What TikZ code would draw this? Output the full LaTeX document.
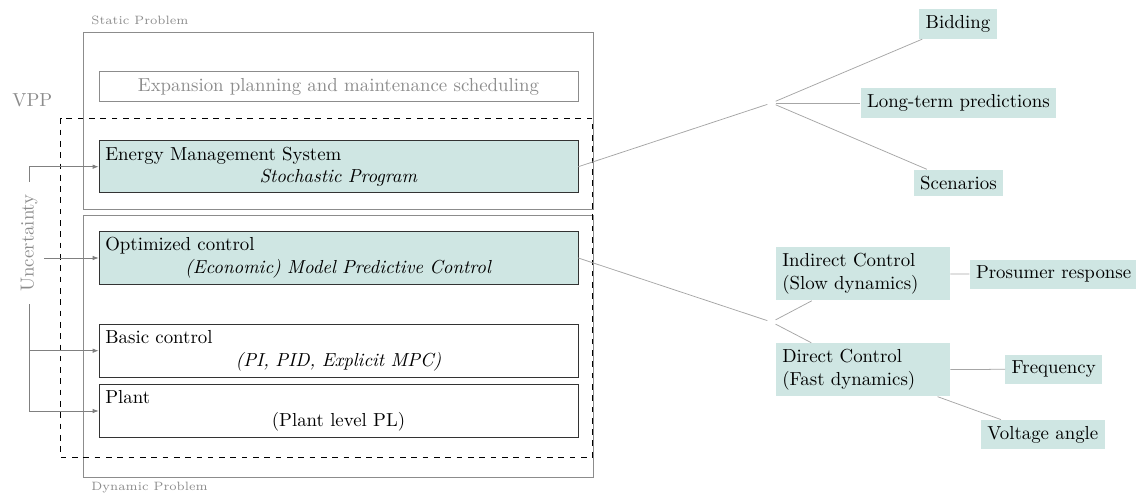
\documentclass[tikz,border=0pt]{standalone}
\usetikzlibrary{arrows.meta}
\definecolor{tealbg}{RGB}{207,230,227}
\tikzset{
  level/.style={draw=black!80, fill=white, text width=247.4pt, inner sep=3.33pt},
  active/.style={fill=tealbg},
  leaf/.style={fill=tealbg, inner sep=3.33pt},
  hub/.style={inner sep=2pt, minimum size=0pt},
  frame/.style={draw=black!45},
  branch/.style={draw=black!35},
  feed/.style={draw=black!50, -{Latex[length=3.2pt,width=2.4pt]}},
  tag/.style={text=black!45, anchor=base west, inner sep=0pt, font=\fontsize{6.4}{7}\selectfont},
}
\begin{document}
\begin{tikzpicture}[x=0.5305pt, y=-0.5305pt]
\useasboundingbox (0,0) rectangle (1136,495);

% outer frames: static / dynamic problem and the VPP boundary
\draw[frame] (83,32) rectangle (593,209);
\draw[frame] (83,215) rectangle (593,477);
\draw[dashed] (60.5,118.3) rectangle (592.5,457.3);
\node[tag] (stat) at (91,24.5) {Static Problem};
\node[tag] (dyn) at (91,490.5) {Dynamic Problem};
\node[text=black!45, anchor=base west, inner sep=0pt] (vpp) at (12,106.7) {VPP};

% control hierarchy
\node[level, draw=black!45, text=black!45, align=center] (exp) at (338.5,86.4)
  {Expansion planning and maintenance scheduling};
\node[level, active] (ems) at (338.5,166.7)
  {Energy Management System\par\centerline{\textit{Stochastic Program}}};
\node[level, active] (opt) at (338.5,258)
  {Optimized control\par\centerline{\textit{(Economic) Model Predictive Control}}};
\node[level] (basic) at (338.5,350.7)
  {Basic control\par\centerline{\textit{(PI, PID, Explicit MPC)}}};
\node[level] (plant) at (338.5,411)
  {Plant\par\centerline{(Plant level PL)}};

% uncertainty enters every level
\node[rotate=90, text=black!45, inner xsep=6.4pt, inner ysep=3.33pt] (unc) at (29,243) {Uncertainty};
\draw[feed] (unc.east) |- (ems.west);
\draw[feed] (unc.south |- opt.west) -- (opt.west);
\draw[feed] (unc.west) |- (basic.west);
\draw[feed] (unc.west) |- (plant.west);

% EMS tasks
\node[hub] (j1) at (771.5,103) {};
\node[leaf] (bid) at (958,24) {Bidding};
\node[leaf] (ltp) at (958.4,103) {Long-term predictions};
\node[leaf] (scn) at (958.5,182.8) {Scenarios};
\draw[branch] (ems.east) -- (j1);
\draw[branch] (j1) -- (bid);
\draw[branch] (j1) -- (ltp);
\draw[branch] (j1) -- (scn);

% control modes
\node[hub] (j2) at (771.5,322) {};
\node[leaf, text width=85.6pt, align=left] (ind) at (863,273.8) {Indirect Control\\(Slow dynamics)};
\node[leaf, text width=85.6pt, align=left] (dir) at (863,369.7) {Direct Control\\(Fast dynamics)};
\node[leaf] (pro) at (1053.6,274.2) {Prosumer response};
\node[leaf] (frq) at (1053.7,369.2) {Frequency};
\node[leaf] (vol) at (1042.8,434.7) {Voltage angle};
\draw[branch] (opt.east) -- (j2);
\draw[branch] (j2) -- (ind);
\draw[branch] (j2) -- (dir);
\draw[branch] (ind) -- (pro);
\draw[branch] (dir) -- (frq);
\draw[branch] (dir) -- (vol);
\end{tikzpicture}
\end{document}
